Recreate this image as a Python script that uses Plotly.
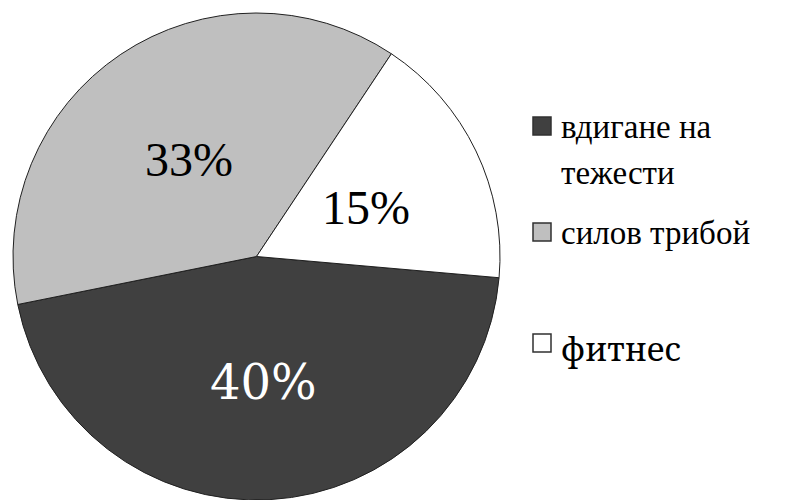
import math
import plotly.graph_objects as go

# Chart data
labels = ["вдигане на тежести", "силов трибой", "фитнес"]
legend_labels = ["вдигане на<br>тежести", "силов трибой", "фитнес"]
values = [40, 33, 15]
colors = ["#404040", "#bfbfbf", "#ffffff"]
text_colors = ["#ffffff", "#000000", "#000000"]

W, H = 790, 500
LABEL_FONTS = ["DejaVu Serif", "Tinos", "serif"]
LEGEND_FONTS = ["Times New Roman", "Liberation Serif", "Noto Serif"]
ROTATION = 95

# pie box in pixels
PIE_X0, PIE_X1, PIE_TOP = 12, 501, 13


def px(x):
    return x / W


def py(y):
    return 1 - y / H


fig = go.Figure(
    go.Pie(
        labels=labels,
        values=values,
        sort=False,
        direction="clockwise",
        rotation=ROTATION,
        marker=dict(colors=colors, line=dict(color="#202020", width=1)),
        textinfo="none",
        domain=dict(x=[px(PIE_X0), px(PIE_X1)], y=[0, py(PIE_TOP)]),
        showlegend=False,
    )
)

# Percent labels at half radius along each slice's mid-angle
radius = min(PIE_X1 - PIE_X0, H - PIE_TOP) / 2
cx = (PIE_X0 + PIE_X1) / 2
cy = PIE_TOP + radius
total = sum(values)
annotations = []
start = ROTATION
for v, tc, fam in zip(values, text_colors, LABEL_FONTS):
    span = 360 * v / total
    mid = math.radians(start + span / 2)
    start += span
    x = cx + 0.5 * radius * math.sin(mid)
    y = cy - 0.5 * radius * math.cos(mid) + 4
    annotations.append(
        dict(
            text=f"{v}%", xref="paper", yref="paper",
            x=px(x), y=py(y), xanchor="center", yanchor="middle",
            showarrow=False,
            font=dict(family=fam, size=48, color=tc),
        )
    )

# Legend: swatch + label lines, positioned by text baseline
LEG_SIZE = 33
swatch_bottom = [135, 241, 352]
line_pitch = 46
shapes = []
for name, col, base, fam in zip(legend_labels, colors, swatch_bottom, LEGEND_FONTS):
    shapes.append(
        dict(
            type="rect", xref="paper", yref="paper",
            x0=px(533), x1=px(551), y0=py(base), y1=py(base - 18),
            fillcolor=col, line=dict(color="#303030", width=1.5),
        )
    )
    for i, line in enumerate(name.split("<br>")):
        baseline = base + 2 + i * line_pitch
        annotations.append(
            dict(
                text=line, xref="paper", yref="paper",
                x=px(559), y=py(baseline - 0.891 * LEG_SIZE - 1),
                xanchor="left", yanchor="top", showarrow=False,
                font=dict(family=fam, size=LEG_SIZE, color="#000000"),
            )
        )

fig.update_layout(
    width=W,
    height=H,
    margin=dict(l=0, r=0, t=0, b=0),
    paper_bgcolor="#ffffff",
    shapes=shapes,
    annotations=annotations,
)

fig.write_html("out.html")
